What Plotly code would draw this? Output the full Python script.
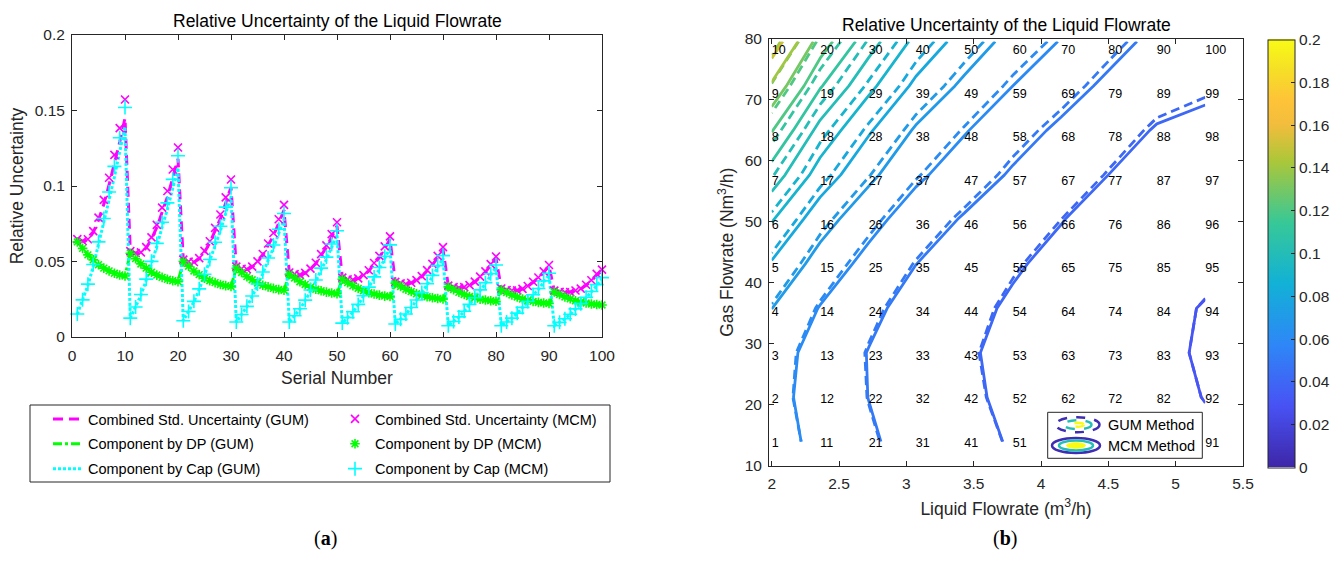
import numpy as np
import plotly.graph_objects as go

W, H = 1341, 570

# ---------------- data ----------------
serial = list(range(1, 101))

comb_gum = [
    0.0648, 0.0635, 0.0643, 0.0692, 0.0774, 0.0879, 0.1009, 0.1141, 0.1291, 0.1450,
    0.0569, 0.0555, 0.0558, 0.0590, 0.0649, 0.0726, 0.0828, 0.0927, 0.1052, 0.1180,
    0.0511, 0.0498, 0.0495, 0.0518, 0.0562, 0.0623, 0.0704, 0.0784, 0.0887, 0.0992,
    0.0465, 0.0452, 0.0448, 0.0464, 0.0496, 0.0542, 0.0607, 0.0671, 0.0754, 0.0840,
    0.0426, 0.0415, 0.0410, 0.0423, 0.0449, 0.0486, 0.0540, 0.0594, 0.0662, 0.0735,
    0.0393, 0.0382, 0.0377, 0.0386, 0.0407, 0.0437, 0.0482, 0.0527, 0.0585, 0.0648,
    0.0365, 0.0355, 0.0350, 0.0357, 0.0375, 0.0400, 0.0437, 0.0476, 0.0527, 0.0581,
    0.0340, 0.0330, 0.0324, 0.0329, 0.0342, 0.0364, 0.0396, 0.0430, 0.0474, 0.0521,
    0.0321, 0.0311, 0.0308, 0.0309, 0.0318, 0.0336, 0.0363, 0.0389, 0.0428, 0.0468,
    0.0307, 0.0299, 0.0296, 0.0298, 0.0307, 0.0318, 0.0343, 0.0371, 0.0410, 0.0439]

comb_mcm = [
    0.0648, 0.0636, 0.0647, 0.0701, 0.0791, 0.0908, 0.1055, 0.1206, 0.1383, 0.1573,
    0.0569, 0.0556, 0.0560, 0.0595, 0.0660, 0.0743, 0.0857, 0.0967, 0.1109, 0.1255,
    0.0512, 0.0499, 0.0497, 0.0522, 0.0570, 0.0634, 0.0723, 0.0811, 0.0925, 0.1043,
    0.0466, 0.0452, 0.0449, 0.0466, 0.0501, 0.0550, 0.0619, 0.0689, 0.0780, 0.0875,
    0.0427, 0.0416, 0.0411, 0.0425, 0.0453, 0.0492, 0.0549, 0.0607, 0.0681, 0.0760,
    0.0393, 0.0382, 0.0378, 0.0388, 0.0410, 0.0442, 0.0490, 0.0537, 0.0600, 0.0666,
    0.0365, 0.0355, 0.0351, 0.0359, 0.0377, 0.0403, 0.0443, 0.0484, 0.0537, 0.0595,
    0.0340, 0.0330, 0.0325, 0.0330, 0.0344, 0.0367, 0.0400, 0.0435, 0.0483, 0.0533,
    0.0321, 0.0311, 0.0308, 0.0309, 0.0319, 0.0338, 0.0366, 0.0394, 0.0435, 0.0477,
    0.0307, 0.0299, 0.0296, 0.0298, 0.0308, 0.0320, 0.0346, 0.0376, 0.0418, 0.0446]

dp_comp = [
    0.0630, 0.0587, 0.0544, 0.0511, 0.0479, 0.0456, 0.0438, 0.0422, 0.0411, 0.0404,
    0.0555, 0.0519, 0.0484, 0.0456, 0.0429, 0.0410, 0.0395, 0.0382, 0.0373, 0.0367,
    0.0500, 0.0469, 0.0437, 0.0413, 0.0389, 0.0373, 0.0360, 0.0348, 0.0340, 0.0335,
    0.0455, 0.0427, 0.0400, 0.0379, 0.0358, 0.0343, 0.0332, 0.0322, 0.0314, 0.0310,
    0.0415, 0.0391, 0.0366, 0.0348, 0.0329, 0.0316, 0.0306, 0.0297, 0.0291, 0.0287,
    0.0382, 0.0360, 0.0339, 0.0322, 0.0306, 0.0294, 0.0285, 0.0277, 0.0271, 0.0268,
    0.0355, 0.0335, 0.0316, 0.0301, 0.0286, 0.0276, 0.0267, 0.0260, 0.0255, 0.0252,
    0.0332, 0.0314, 0.0296, 0.0282, 0.0268, 0.0259, 0.0251, 0.0245, 0.0240, 0.0237,
    0.0312, 0.0295, 0.0278, 0.0265, 0.0252, 0.0243, 0.0236, 0.0229, 0.0225, 0.0222,
    0.0298, 0.0282, 0.0265, 0.0253, 0.0240, 0.0232, 0.0225, 0.0219, 0.0215, 0.0212]

cap_gum = [
    0.0151, 0.0243, 0.0343, 0.0467, 0.0608, 0.0751, 0.0909, 0.1060, 0.1224, 0.1393,
    0.0124, 0.0197, 0.0277, 0.0375, 0.0487, 0.0599, 0.0728, 0.0845, 0.0984, 0.1121,
    0.0107, 0.0167, 0.0233, 0.0313, 0.0406, 0.0499, 0.0605, 0.0703, 0.0819, 0.0934,
    0.0098, 0.0148, 0.0201, 0.0268, 0.0344, 0.0420, 0.0508, 0.0589, 0.0686, 0.0781,
    0.0098, 0.0140, 0.0185, 0.0241, 0.0306, 0.0369, 0.0445, 0.0514, 0.0595, 0.0677,
    0.0092, 0.0127, 0.0165, 0.0213, 0.0269, 0.0324, 0.0389, 0.0448, 0.0519, 0.0590,
    0.0086, 0.0116, 0.0151, 0.0193, 0.0242, 0.0289, 0.0346, 0.0399, 0.0461, 0.0523,
    0.0075, 0.0102, 0.0132, 0.0169, 0.0213, 0.0256, 0.0307, 0.0353, 0.0409, 0.0464,
    0.0075, 0.0098, 0.0124, 0.0157, 0.0194, 0.0232, 0.0276, 0.0315, 0.0364, 0.0412,
    0.0075, 0.0097, 0.0120, 0.0150, 0.0184, 0.0218, 0.0259, 0.0296, 0.0340, 0.0385]

cap_mcm = [
    0.0152, 0.0246, 0.0350, 0.0480, 0.0630, 0.0785, 0.0960, 0.1130, 0.1320, 0.1520,
    0.0125, 0.0199, 0.0281, 0.0383, 0.0501, 0.0620, 0.0760, 0.0888, 0.1044, 0.1200,
    0.0108, 0.0169, 0.0236, 0.0319, 0.0416, 0.0513, 0.0627, 0.0733, 0.0860, 0.0988,
    0.0099, 0.0149, 0.0203, 0.0272, 0.0351, 0.0430, 0.0523, 0.0609, 0.0714, 0.0818,
    0.0099, 0.0141, 0.0187, 0.0244, 0.0311, 0.0377, 0.0456, 0.0529, 0.0616, 0.0704,
    0.0092, 0.0128, 0.0167, 0.0216, 0.0273, 0.0330, 0.0398, 0.0460, 0.0535, 0.0610,
    0.0086, 0.0117, 0.0152, 0.0195, 0.0245, 0.0294, 0.0353, 0.0408, 0.0473, 0.0539,
    0.0075, 0.0103, 0.0133, 0.0171, 0.0216, 0.0260, 0.0312, 0.0360, 0.0419, 0.0477,
    0.0075, 0.0099, 0.0125, 0.0158, 0.0196, 0.0235, 0.0280, 0.0321, 0.0372, 0.0422,
    0.0075, 0.0097, 0.0121, 0.0151, 0.0186, 0.0221, 0.0263, 0.0301, 0.0347, 0.0393]

# grid of the contour map (serial n = 10*i + j + 1 -> liquid[i], gas[j])
liquid = [2.00, 2.36, 2.72, 3.07, 3.43, 3.79, 4.15, 4.50, 4.86, 5.22]
gas = [13.9, 21.2, 28.5, 35.8, 43.1, 50.4, 57.7, 65.0, 72.3, 79.6]
label_gas = [13.6, 20.8, 27.9, 35.1, 42.3, 49.4, 56.6, 63.8, 70.9, 78.1]
hidden_labels = [61, 71, 81]   # covered by the method legend in the original
levels = [0.03, 0.04, 0.05, 0.06, 0.07, 0.08, 0.09, 0.10, 0.11, 0.12, 0.13, 0.14, 0.15]
cbar_ticks = [0, 0.02, 0.04, 0.06, 0.08, 0.10, 0.12, 0.14, 0.16, 0.18, 0.20]
cbar_labels = ["0", "0.02", "0.04", "0.06", "0.08", "0.1", "0.12", "0.14", "0.16", "0.18", "0.2"]

# ---------------- styling helpers ----------------
PARULA = [
    (0.000, (0.2422, 0.1504, 0.6603)),
    (0.143, (0.2810, 0.3228, 0.9579)),
    (0.286, (0.1786, 0.5289, 0.9682)),
    (0.429, (0.0689, 0.6948, 0.8394)),
    (0.571, (0.2161, 0.7843, 0.5923)),
    (0.714, (0.6720, 0.7793, 0.2227)),
    (0.800, (0.9500, 0.7400, 0.2400)),
    (0.857, (0.9970, 0.7659, 0.2199)),
    (0.930, (0.9600, 0.8800, 0.1500)),
    (1.000, (0.9769, 0.9839, 0.0805)),
]


def rgb(c):
    return "rgb(%d,%d,%d)" % tuple(round(255 * v) for v in c)


def parula(t):
    t = min(max(t, 0.0), 1.0)
    for (t0, c0), (t1, c1) in zip(PARULA[:-1], PARULA[1:]):
        if t <= t1:
            f = (t - t0) / (t1 - t0)
            return rgb([a + f * (b - a) for a, b in zip(c0, c1)])
    return rgb(PARULA[-1][1])


parula_scale = [[t, rgb(c)] for t, c in PARULA]


def px(x):
    return x / W


def py(y):
    return 1 - y / H


FONT = "Liberation Sans, Arial, Helvetica, sans-serif"
AX = "#262626"
MAG, GRN, CYN = "#ff00ff", "#00ff00", "#00ffff"

fig = go.Figure()

# ---------------- (a) line / marker chart ----------------
fig.add_trace(go.Scatter(x=serial, y=comb_gum, mode="lines", name="Combined Std. Uncertainty (GUM)",
                         line=dict(color=MAG, width=3, dash="10px,6px"),
                         legend="legend", legendgroup="g1"))
fig.add_trace(go.Scatter(x=serial, y=dp_comp, mode="lines", name="Component by DP (GUM)",
                         line=dict(color=GRN, width=3, dash="9px,3px,3px,3px"),
                         legend="legend", legendgroup="g2"))
fig.add_trace(go.Scatter(x=serial, y=cap_gum, mode="lines", name="Component by Cap (GUM)",
                         line=dict(color=CYN, width=3, dash="3px,2px"),
                         legend="legend", legendgroup="g3"))
fig.add_trace(go.Scatter(x=serial, y=comb_mcm, mode="markers", name="Combined Std. Uncertainty (MCM)",
                         marker=dict(symbol="x-thin-open", size=8, color=MAG, line=dict(color=MAG, width=1.6)),
                         cliponaxis=False, legend="legend2", legendgroup="m1"))
fig.add_trace(go.Scatter(x=serial, y=dp_comp, mode="markers", name="Component by DP (MCM)",
                         marker=dict(symbol="asterisk-open", size=8, color=GRN, line=dict(color=GRN, width=1.6)),
                         cliponaxis=False, legend="legend2", legendgroup="m2"))
fig.add_trace(go.Scatter(x=serial, y=cap_mcm, mode="markers", name="Component by Cap (MCM)",
                         marker=dict(symbol="cross-thin-open", size=10, color=CYN, line=dict(color=CYN, width=1.6)),
                         cliponaxis=False, legend="legend2", legendgroup="m3"))

# ---------------- (b) contour map ----------------
Z_gum = np.array(comb_gum).reshape(10, 10).T
Z_mcm = np.array(comb_mcm).reshape(10, 10).T

for Z, dash in ((Z_gum, "9px,5px"), (Z_mcm, "solid")):
    for L in levels:
        fig.add_trace(go.Contour(
            x=liquid, y=gas, z=Z, xaxis="x2", yaxis="y2",
            autocontour=False,
            contours=dict(start=L, end=L, size=0.01, coloring="none", showlabels=False),
            line=dict(color=parula(L / 0.2), width=2.8, dash=dash, smoothing=0),
            showscale=False, showlegend=False, hoverinfo="skip"))

# serial-number labels at the grid points
lx, ly, lt = [], [], []
for i, xv in enumerate(liquid):
    for j, yv in enumerate(label_gas):
        n = 10 * i + j + 1
        if n in hidden_labels:
            continue
        lx.append(xv)
        ly.append(yv)
        lt.append(str(n))
fig.add_trace(go.Scatter(x=lx, y=ly, text=lt, mode="text", textposition="middle right",
                         textfont=dict(family=FONT, size=12.5, color="#000000"),
                         xaxis="x2", yaxis="y2", showlegend=False, hoverinfo="skip", cliponaxis=False))

# colour bar (continuous parula scale)
fig.add_trace(go.Scatter(
    x=[liquid[i] for i in range(10) for j in range(10)],
    y=[gas[j] for i in range(10) for j in range(10)],
    mode="markers", xaxis="x2", yaxis="y2", showlegend=False, hoverinfo="skip",
    marker=dict(color=comb_mcm, colorscale=parula_scale, cmin=0, cmax=0.2, opacity=0, size=1,
                showscale=True,
                colorbar=dict(x=px(1268), xanchor="left", y=py(253.5), yanchor="middle",
                              len=428, lenmode="pixels", thickness=27, thicknessmode="pixels",
                              xpad=0, ypad=0, outlinewidth=1, outlinecolor=AX,
                              ticks="inside", ticklen=4, tickcolor=AX, tickwidth=1,
                              tickvals=cbar_ticks, ticktext=cbar_labels,
                              tickfont=dict(family=FONT, size=15.5, color=AX)))))

# ---------------- layout ----------------
axis_common = dict(showline=True, linecolor=AX, linewidth=1, mirror="ticks", ticks="inside",
                   ticklen=5, tickcolor=AX, tickwidth=1, showgrid=False, zeroline=False,
                   automargin=False,
                   tickfont=dict(family=FONT, size=15.5, color=AX))

legend_common = dict(xanchor="left", yanchor="top", orientation="v", bgcolor="rgba(0,0,0,0)",
                     borderwidth=0, traceorder="grouped", tracegroupgap=3,
                     font=dict(family=FONT, size=14.5, color="#000000"))

fig.update_layout(
    width=W, height=H, margin=dict(l=0, r=0, t=0, b=0, autoexpand=False),
    paper_bgcolor="white", plot_bgcolor="white",
    font=dict(family=FONT, color=AX),
    xaxis=dict(domain=[px(72), px(602)], range=[0, 100], dtick=10, anchor="y",
               title=dict(text="Serial Number", font=dict(size=17.5, color=AX), standoff=9),
               ticklabelstandoff=4, **axis_common),
    yaxis=dict(domain=[py(337), py(35)], range=[0, 0.2], dtick=0.05, anchor="x",
               title=dict(text="Relative Uncertainty", font=dict(size=17.5, color=AX), standoff=6),
               ticklabelstandoff=3, **axis_common),
    xaxis2=dict(domain=[px(769), px(1243)], range=[1.98, 5.5], dtick=0.5, anchor="y2",
                title=dict(text="Liquid Flowrate (m<sup>3</sup>/h)", font=dict(size=17.5, color=AX), standoff=11),
                ticklabelstandoff=4, **axis_common),
    yaxis2=dict(domain=[py(465.5), py(39)], range=[10, 80], dtick=10, anchor="x2",
                title=dict(text="Gas Flowrate (Nm<sup>3</sup>/h)", font=dict(size=17.5, color=AX), standoff=6),
                ticklabelstandoff=3, **axis_common),
    legend=dict(x=px(48), y=py(403), **legend_common),
    legend2=dict(x=px(335), y=py(403), **legend_common),
    showlegend=True,
)

shapes = [
    # legend box of (a)
    dict(type="rect", xref="paper", yref="paper", x0=px(30), x1=px(610), y0=py(482), y1=py(405),
         line=dict(color=AX, width=1), fillcolor="rgba(0,0,0,0)", layer="below"),
    # legend box of (b)
    dict(type="rect", xref="paper", yref="paper", x0=px(1047.7), x1=px(1202.3), y0=py(458.3), y1=py(412.3),
         line=dict(color=AX, width=1), fillcolor="white", layer="above"),
]


def ellipse(cx, cy, rx, ry, color, dash, fill=None, width=2.5):
    return dict(type="circle", xref="paper", yref="paper",
                x0=px(cx - rx), x1=px(cx + rx), y0=py(cy + ry), y1=py(cy - ry),
                line=dict(color=color, width=width, dash=dash),
                fillcolor=fill if fill else "rgba(0,0,0,0)", layer="above")


c_low, c_mid, c_high = parula(0.02), parula(0.5), parula(1.0)
shapes += [
    ellipse(1077.5, 424.7, 22, 7.5, c_low, "dash"),
    ellipse(1077.5, 424.7, 14, 4.5, c_mid, "dash"),
    ellipse(1077.5, 424.7, 6.5, 2.0, c_high, "dash", width=2.5),
    ellipse(1076, 445.5, 24, 7.5, c_low, "solid"),
    ellipse(1076, 445.5, 17, 5.0, c_mid, "solid"),
    ellipse(1076, 445.5, 9.5, 2.8, c_high, "solid", fill=c_high, width=1),
]
fig.update_layout(shapes=shapes)

ann = [
    dict(text="Relative Uncertainty of the Liquid Flowrate", x=px(337), y=py(21)),
    dict(text="Relative Uncertainty of the Liquid Flowrate", x=px(1006), y=py(25)),
]
annotations = []
for a in ann:
    annotations.append(dict(text=a["text"], x=a["x"], y=a["y"], xref="paper", yref="paper",
                            xanchor="center", yanchor="middle", showarrow=False,
                            font=dict(family=FONT, size=17.5, color="#000000")))
for txt, yy in (("GUM Method", 424.7), ("MCM Method", 445.7)):
    annotations.append(dict(text=txt, x=px(1106), y=py(yy), xref="paper", yref="paper",
                            xanchor="left", yanchor="middle", showarrow=False,
                            font=dict(family=FONT, size=14.5, color="#000000")))
for txt, xx in (("(<b>a</b>)", 325), ("(<b>b</b>)", 1005)):
    annotations.append(dict(text=txt, x=px(xx), y=py(538), xref="paper", yref="paper",
                            xanchor="center", yanchor="middle", showarrow=False,
                            font=dict(family="Liberation Serif, DejaVu Serif, serif", size=20, color="#000000")))
fig.update_layout(annotations=annotations)

fig.write_html("out.html", config={"displayModeBar": False},
               post_script="document.body.style.margin='0px';")
